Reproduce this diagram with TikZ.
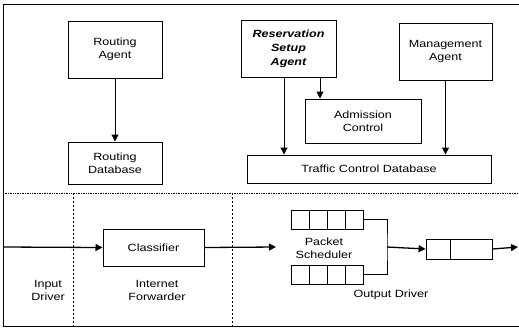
\documentclass[tikz,border=0pt]{standalone}
\usepackage{fontspec}
\setmainfont[FakeStretch=1.2]{Liberation Sans}
\usetikzlibrary{arrows.meta}

\begin{document}
\begin{tikzpicture}[x=1bp,y=-1bp,
  >={Triangle[length=7bp,width=7bp]},
  every node/.style={font=\fontsize{10.5}{13}\selectfont, align=center},
  blk/.style={draw=black, line width=1bp, inner sep=0pt},
  cell/.style={draw=black, line width=0.8bp, inner sep=0pt, minimum width=18bp, minimum height=19bp},
  flow/.style={line width=1.3bp}]
  \useasboundingbox (0,0) rectangle (519,330);
  \draw[line width=1bp] (3,4) rectangle (525,326);

  % control plane
  \node[blk, minimum width=94bp, minimum height=57bp] (ragent) at (115,49.5) {Routing\\Agent};
  \node[blk, minimum width=94bp, minimum height=42bp] (rdb) at (115,163) {Routing\\Database};
  \node[blk, minimum width=95bp, minimum height=57bp, font=\fontsize{10.5}{14}\selectfont\bfseries\itshape] (rsa) at (288.5,48.5) {Reservation\\Setup\\Agent};
  \node[blk, minimum width=116bp, minimum height=44bp] (adm) at (363,121) {Admission\\Control};
  \node[blk, minimum width=93bp, minimum height=57bp] (magent) at (445.5,51.5) {Management\\Agent};
  \node[blk, minimum width=244bp, minimum height=28bp] (tcd) at (369,169) {Traffic Control Database};

  \path [->,line width=1bp](ragent) edge (rdb);
  \draw [->,line width=1bp] ([xshift=-4.5bp]rsa.south) -- ([xshift=-4.5bp]rsa.south |- tcd.north);
  \draw [->,line width=1bp] ([xshift=31.5bp]rsa.south) -- ([xshift=31.5bp]rsa.south |- adm.north);
  \draw [->,line width=1bp] (magent.south) -- (magent.south |- tcd.north);

  % boundaries
  \draw[densely dotted, line width=0.7bp] (3,193) -- (519,193);
  \draw[dash pattern=on 2bp off 2bp, line width=0.7bp] (73,193) -- (73,326);
  \draw[dash pattern=on 2bp off 2bp, line width=0.7bp] (232,193) -- (232,326);

  % data path
  \node[blk, minimum width=101bp, minimum height=37bp] (cls) at (153.5,247.5) {Classifier};
  \foreach \i/\x in {a/300,b/318,c/336,d/354} {
    \node[cell] (qu\i) at (\x,219.5) {};
    \node[cell] (ql\i) at (\x,274.5) {};
  }
  \node[cell, minimum width=24bp, minimum height=20bp] (oq1) at (438,249) {};
  \node[cell, minimum width=42bp, minimum height=20bp] (oq2) at (471,249) {};

  \coordinate (src) at (3,247);
  \coordinate (sched) at (276,247);
  \coordinate (mrg) at (387,247);
  \coordinate (dst) at (518,247);

  \draw[->,flow] (src) -- (cls.west);
  \draw[->,flow] (cls.east) -- (sched);
  \draw[line width=0.8bp] (qud.east) -| (mrg) |- (qld.east);
  \draw[->,flow] (mrg) -- (oq1.west);
  \draw[->,flow] (oq2.east) -- (dst);

  \node (lin) at (48,290) {Input\\Driver};
  \node (lfw) at (157,290) {Internet\\Forwarder};
  \node (lps) at (324,248) {Packet\\Scheduler};
  \node (lod) at (391,295) {Output Driver};
\end{tikzpicture}
\end{document}
